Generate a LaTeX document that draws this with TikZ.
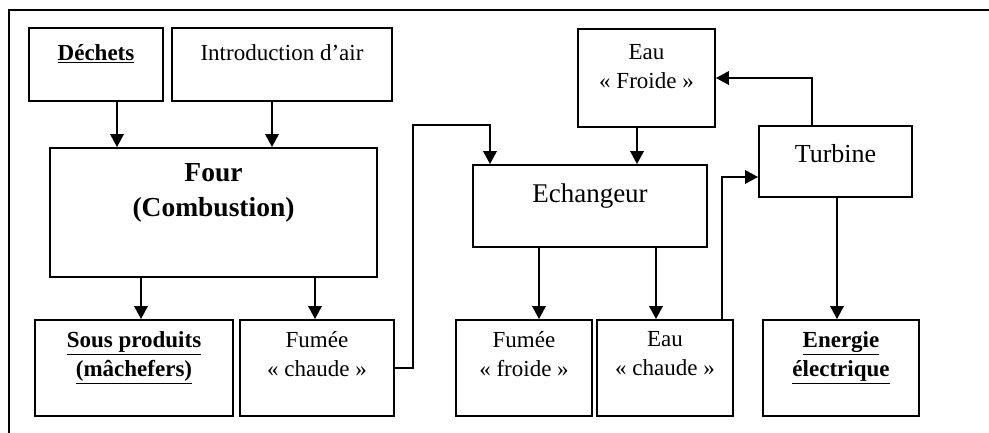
\documentclass[tikz,border=0pt]{standalone}
\usepackage{fontspec}
\setmainfont{Liberation Serif}
\usetikzlibrary{arrows.meta, positioning}
\newcommand{\txtsize}{\fontsize{23}{29}\selectfont}
\newcommand{\fursize}{\fontsize{27.5}{35}\selectfont}

\begin{document}
\begin{tikzpicture}[x=1pt, y=-1pt,
    box/.style={draw, line width=1.6pt, inner sep=0pt},
    txt/.style={inner sep=0pt, align=center, font=\txtsize},
    flow/.style={line width=2.8pt, -{Triangle[length=13pt, width=13pt]}}]
    \useasboundingbox (0,0) rectangle (989,433);
    \draw[line width=2pt] (989,10) -- (9,10) -- (9,433);
    % boxes
    \node[box, minimum width=134pt, minimum height=73pt] (dechets) at (96,64.5) {};
    \node[box, minimum width=220pt, minimum height=73pt] (intro) at (282,64.5) {};
    \node[box, minimum width=327pt, minimum height=129pt] (four) at (213.5,212.5) {};
    \node[box, minimum width=198pt, minimum height=96pt] (sousprod) at (134,368) {};
    \node[box, minimum width=154pt, minimum height=96pt] (fumeec) at (317,368) {};
    \node[box, minimum width=137pt, minimum height=98pt] (eaufroide) at (646.5,78) {};
    \node[box, minimum width=234pt, minimum height=82pt] (echangeur) at (590,206) {};
    \node[box, minimum width=153pt, minimum height=71pt] (turbine) at (835.5,161.5) {};
    \node[box, minimum width=136pt, minimum height=96pt] (fumeef) at (524,368) {};
    \node[box, minimum width=136pt, minimum height=96pt] (eauc) at (665,368) {};
    \node[box, minimum width=156pt, minimum height=96pt] (energie) at (841,368) {};
    % texts
    \node[txt, below=17.3pt of dechets.north] (dechets-t) {\textbf{\underline{Déchets}}};
    \node[txt, below=17.3pt of intro.north] (intro-t) {Introduction d’air};
    \node[txt, font=\fursize\bfseries, below=16.4pt of four.north] (four-t) {Four\\(Combustion)};
    \node[txt, font=\txtsize\bfseries, below=12.5pt of sousprod.north] (sousprod-t)
        {\underline{Sous produits}\\\underline{(mâchefers)}};
    \node[txt, below=12.5pt of fumeec.north] (fumeec-t) {Fumée\\« chaude »};
    \node[txt, below=15.8pt of eaufroide.north] (eaufroide-t) {Eau\\« Froide »};
    \node[txt, font=\fontsize{27}{32}\selectfont, below=19.6pt of echangeur.north] (echangeur-t) {Echangeur};
    \node[txt, font=\fontsize{26}{31}\selectfont, below=19.2pt of turbine.north] (turbine-t) {Turbine};
    \node[txt, below=12.5pt of fumeef.north] (fumeef-t) {Fumée\\« froide »};
    \node[txt, below=12.5pt of eauc.north] (eauc-t) {Eau\\« chaude »};
    \node[txt, font=\txtsize\bfseries, below=12.5pt of energie.north] (energie-t)
        {\underline{Energie}\\\underline{électrique}};
    % flows
    \draw[flow] (117,0 |- dechets.south) -- (117,0 |- four.north);
    \draw[flow] (272,0 |- intro.south) -- (272,0 |- four.north);
    \draw[flow] (141,0 |- four.south) -- (141,0 |- sousprod.north);
    \draw[flow] (315,0 |- four.south) -- (315,0 |- fumeec.north);
    \draw[flow] (fumeec.east) -| (413,125) -| (490,0 |- echangeur.north);
    \draw[flow] (637,0 |- eaufroide.south) -- (637,0 |- echangeur.north);
    \draw[flow] (539,0 |- echangeur.south) -- (539,0 |- fumeef.north);
    \draw[flow] (656,0 |- echangeur.south) -- (656,0 |- eauc.north);
    \draw[flow] (722,0 |- eauc.north) |- (turbine.west |- 0,177);
    \draw[flow] (812,0 |- turbine.north) |- (eaufroide.east);
    \draw[flow] (837,0 |- turbine.south) -- (837,0 |- energie.north);
\end{tikzpicture}
\end{document}
